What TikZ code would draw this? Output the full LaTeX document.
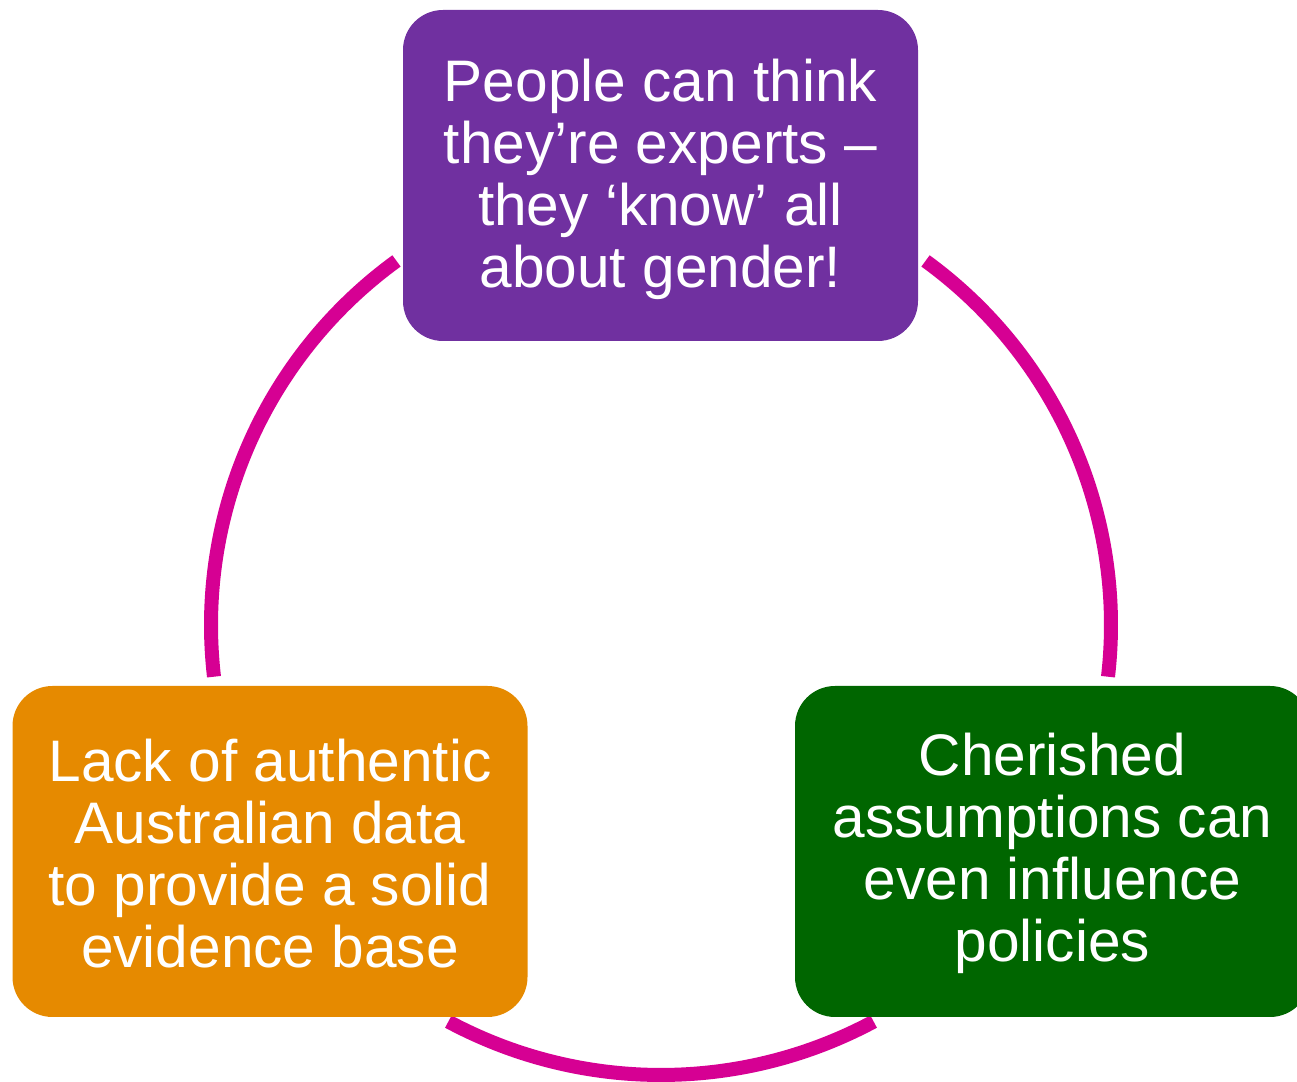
\documentclass[tikz,border=0pt]{standalone}
\usepackage{fontspec}
\setmainfont{Liberation Sans}
\usepackage{tikz}
\definecolor{violetPPT}{HTML}{7030A0}
\definecolor{orangePPT}{HTML}{E68A00}
\definecolor{vertPPT}{HTML}{006600}
\definecolor{magentaPPT}{HTML}{D60093}
\tikzstyle{lien}            =[line width=7pt, color=magentaPPT, line cap=butt]
\tikzstyle{boite}           =[rounded corners=20pt, minimum width=257.5pt, minimum height=165.5pt, inner sep=0pt, text=white, align=center, font=\fontsize{29.3}{31}\selectfont]

\begin{document}
\begin{tikzpicture}[x=0.5pt,y=0.5pt]

%%%%%%%%%%%%%%%%%%%%%%%%
%%%%%%%%%%%%%%%%%%%%%%%%
%Paramètres du cercle qui relie les trois cases
%%%%%%%%%%%%%%%%%%%%%%%%
%%%%%%%%%%%%%%%%%%%%%%%%

\def \xcentre {661}; %abscisse du centre du cercle
\def \ycentre {457}; %ordonnée du centre du cercle
\def \rayon {450}; %rayon du cercle

\useasboundingbox (0,0) rectangle (1297,1082); %cadre de la figure

\coordinate (centre) at (\xcentre,\ycentre);

%%%%%%%%%%%%%%%%%%%%%%%%
%%%%%%%%%%%%%%%%%%%%%%%%
%Les arcs (tracés avant les cases)
%%%%%%%%%%%%%%%%%%%%%%%%
%%%%%%%%%%%%%%%%%%%%%%%%
\draw[lien] (centre) ++(126:\rayon) arc (126:186.6:\rayon); %à gauche
\draw[lien] (centre) ++(54:\rayon) arc (54:-6.6:\rayon); %à droite
\draw[lien] (centre) ++(241.8:\rayon) arc (241.8:298.2:\rayon); %en bas

%%%%%%%%%%%%%%%%%%%%%%%%
%%%%%%%%%%%%%%%%%%%%%%%%
%Les trois cases
%%%%%%%%%%%%%%%%%%%%%%%%
%%%%%%%%%%%%%%%%%%%%%%%%
\node[boite, fill=violetPPT] (experts) at (660.5,906.5) {};
\node[boite, fill=orangePPT] (donnees) at (270,230.5) {};
\node[boite, fill=vertPPT] (politiques) at (1052.5,230.5) {}; %la case déborde à droite

%le texte, un peu plus bas que le centre des cases
\node[boite] (texteexperts) at ([yshift=-2pt]experts.center) {People can think\\they’re experts –\\they ‘know’ all\\about gender!};
\node[boite] (textedonnees) at ([yshift=-1pt]donnees.center) {Lack of authentic\\Australian data\\to provide a solid\\evidence base};
\node[boite] (textepolitiques) at ([yshift=-1pt]politiques.center) {Cherished\\assumptions can\\even influence\\policies};

\end{tikzpicture}
\end{document}
